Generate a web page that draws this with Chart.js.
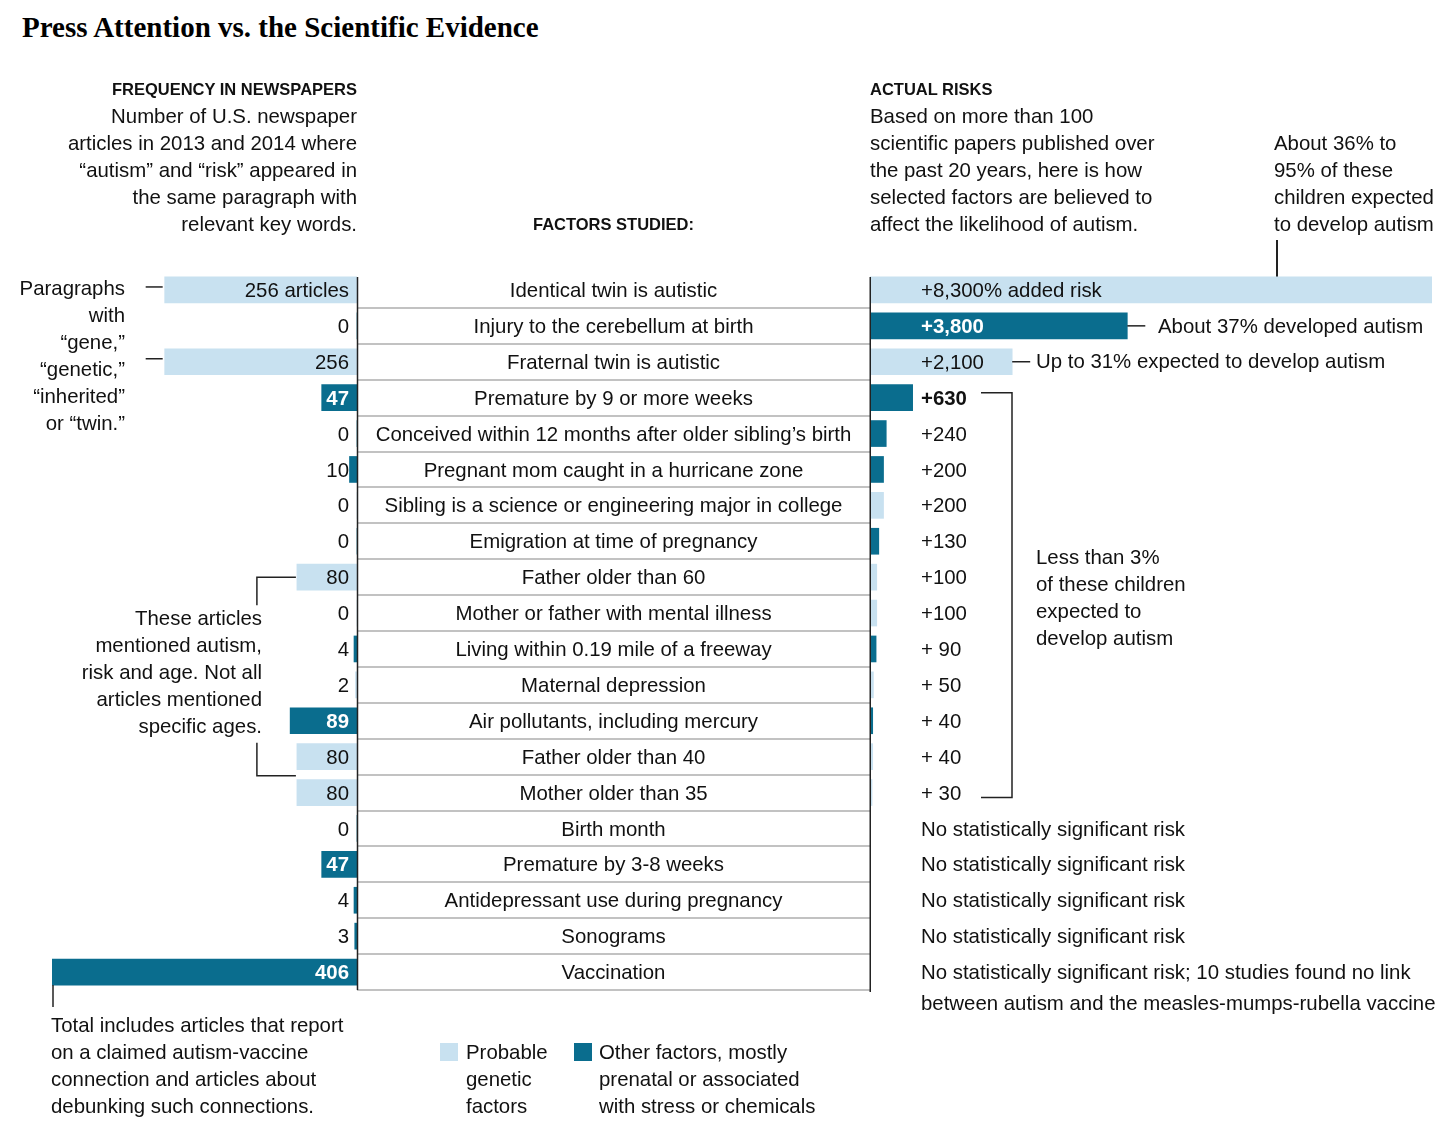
<!DOCTYPE html>
<html>
<head>
<meta charset="utf-8">
<script src="https://cdn.jsdelivr.net/npm/chart.js@4.4.1/dist/chart.umd.min.js"></script>
<style>
  html, body { margin: 0; padding: 0; }
  body { width: 1456px; height: 1126px; background: #fff; position: relative; overflow: hidden;
         font-family: "Liberation Sans", Arial, sans-serif; color: #111; }
  .t { position: absolute; font-size: 20.4px; line-height: 27px; white-space: nowrap; z-index: 2; }
  .r { text-align: right; }
  .h { font-weight: bold; font-size: 16.5px; }
  .title { position: absolute; left: 22px; top: 11px; font: bold 29px "Liberation Serif", "DejaVu Serif", serif; color: #000; white-space: nowrap; }
  canvas { position: absolute; top: 0; z-index: 1; }
  .sq { position: absolute; width: 18px; height: 18px; }
  .vl { position: absolute; width: 1.5px; background: #222; }
</style>
</head>
<body>
<div class="title">Press Attention vs. the Scientific Evidence</div>

<div class="t r h" style="right:1099px; top:76px;">FREQUENCY IN NEWSPAPERS</div>
<div class="t r" style="right:1099px; top:103px;">Number of U.S. newspaper<br>articles in 2013 and 2014 where<br>“autism” and “risk” appeared in<br>the same paragraph with<br>relevant key words.</div>

<div class="t h" style="left:357px; width:513px; text-align:center; top:211px;">FACTORS STUDIED:</div>

<div class="t h" style="left:870px; top:76px;">ACTUAL RISKS</div>
<div class="t" style="left:870px; top:103px;">Based on more than 100<br>scientific papers published over<br>the past 20 years, here is how<br>selected factors are believed to<br>affect the likelihood of autism.</div>

<div class="t" style="left:1274px; top:130px;">About 36% to<br>95% of these<br>children expected<br>to develop autism</div>
<div class="vl" style="left:1276px; top:240px; height:37px;"></div>

<div class="t r" style="right:1331px; top:275px;">Paragraphs<br>with<br>“gene,”<br>“genetic,”<br>“inherited”<br>or “twin.”</div>

<div class="t r" style="right:1194px; top:605px;">These articles<br>mentioned autism,<br>risk and age. Not all<br>articles mentioned<br>specific ages.</div>

<div class="t" style="left:1158px; top:313px;">About 37% developed autism</div>
<div class="t" style="left:1036px; top:348px;">Up to 31% expected to develop autism</div>
<div class="t" style="left:1036px; top:544px;">Less than 3%<br>of these children<br>expected to<br>develop autism</div>
<div class="t" style="left:921px; top:990px;">between autism and the measles-mumps-rubella vaccine</div>

<div class="t" style="left:51px; top:1012px;">Total includes articles that report<br>on a claimed autism-vaccine<br>connection and articles about<br>debunking such connections.</div>

<div class="sq" style="left:440px; top:1043px; background:#c8e1f0;"></div>
<div class="t" style="left:466px; top:1039px;">Probable<br>genetic<br>factors</div>
<div class="sq" style="left:574px; top:1043px; background:#0a6d8e;"></div>
<div class="t" style="left:599px; top:1039px;">Other factors, mostly<br>prenatal or associated<br>with stress or chemicals</div>

<canvas id="left" width="872" height="1126" style="left:0px;"></canvas>
<canvas id="right" width="596" height="1126" style="left:860px;"></canvas>

<script>
// ---------------- DATA ----------------
const factors = [
  'Identical twin is autistic',
  'Injury to the cerebellum at birth',
  'Fraternal twin is autistic',
  'Premature by 9 or more weeks',
  'Conceived within 12 months after older sibling’s birth',
  'Pregnant mom caught in a hurricane zone',
  'Sibling is a science or engineering major in college',
  'Emigration at time of pregnancy',
  'Father older than 60',
  'Mother or father with mental illness',
  'Living within 0.19 mile of a freeway',
  'Maternal depression',
  'Air pollutants, including mercury',
  'Father older than 40',
  'Mother older than 35',
  'Birth month',
  'Premature by 3-8 weeks',
  'Antidepressant use during pregnancy',
  'Sonograms',
  'Vaccination'
];
const factorGroup = ['genetic','other','genetic','other','other','other','genetic','other','genetic','genetic',
                     'other','genetic','other','genetic','genetic','other','other','other','other','other'];
const articleCounts = [256, 0, 256, 47, 0, 10, 0, 0, 80, 0, 4, 2, 89, 80, 80, 0, 47, 4, 3, 406];
const articleLabels = ['256 articles','0','256','47','0','10','0','0','80','0','4','2','89','80','80','0','47','4','3','406'];
const addedRiskPct = [8300, 3800, 2100, 630, 240, 200, 200, 130, 100, 100, 90, 50, 40, 40, 30, null, null, null, null, null];
const riskLabels = ['+8,300% added risk','+3,800','+2,100','+630','+240','+200','+200','+130','+100','+100',
                    '+ 90','+ 50','+ 40','+ 40','+ 30',
                    'No statistically significant risk','No statistically significant risk',
                    'No statistically significant risk','No statistically significant risk',
                    'No statistically significant risk; 10 studies found no link'];
const boldRiskLabels = [1, 3];

// ---------------- STYLE ----------------
const LIGHT = '#c8e1f0';
const DARK = '#0a6d8e';
const INK = '#111';
const FONT = '"Liberation Sans", Arial, sans-serif';
const FS = '20.4px ';
const MIDDLE_WIDTH = 513;
const colorOf = g => g === 'genetic' ? LIGHT : DARK;

function line(ctx, x1, y1, x2, y2) { ctx.beginPath(); ctx.moveTo(x1, y1); ctx.lineTo(x2, y2); ctx.stroke(); }

const leftDecor = {
  id: 'leftDecor',
  afterDatasetsDraw(chart) {
    const { ctx, chartArea: a, scales: { x, y } } = chart;
    const n = factors.length;
    const rowH = y.getPixelForValue(1) - y.getPixelForValue(0);
    const x0 = x.getPixelForValue(0);
    const midR = a.right + MIDDLE_WIDTH;
    ctx.save();
    // row separators in the middle column
    ctx.strokeStyle = '#c2c2c2'; ctx.lineWidth = 2;
    for (let i = 0; i < n; i++) {
      const yy = Math.round(y.getPixelForValue(i) + rowH / 2);
      line(ctx, x0, yy, midR, yy);
    }
    // axis line
    ctx.strokeStyle = '#222'; ctx.lineWidth = 1.5;
    line(ctx, x0 + 0.5, y.getPixelForValue(0) - 13, x0 + 0.5, y.getPixelForValue(n - 1) + rowH / 2);
    // value labels
    ctx.textBaseline = 'middle';
    for (let i = 0; i < n; i++) {
      const yy = y.getPixelForValue(i) + 1.5;
      const inside = factorGroup[i] === 'other' && articleCounts[i] >= 40;
      ctx.font = (inside ? 'bold ' : '') + FS + FONT;
      ctx.fillStyle = inside ? '#fff' : INK;
      ctx.textAlign = 'right';
      ctx.fillText(articleLabels[i], x0 - 8, yy);
      ctx.font = FS + FONT;
      ctx.fillStyle = INK;
      ctx.textAlign = 'center';
      ctx.fillText(factors[i], (x0 + midR) / 2, yy);
    }
    // connectors
    ctx.strokeStyle = '#222'; ctx.lineWidth = 1.5;
    [0, 2].forEach(i => {
      const e = x.getPixelForValue(articleCounts[i]);
      const yy = y.getPixelForValue(i) - 3;
      line(ctx, e - 19, yy, e - 2, yy);
    });
    {
      const e = x.getPixelForValue(articleCounts[8]);
      const yy = y.getPixelForValue(8);
      ctx.beginPath(); ctx.moveTo(e - 1, yy); ctx.lineTo(e - 40, yy); ctx.lineTo(e - 40, yy + 28); ctx.stroke();
    }
    {
      const e = x.getPixelForValue(articleCounts[13]);
      const yy = y.getPixelForValue(13) + 19;
      ctx.beginPath(); ctx.moveTo(e - 40, yy - 33); ctx.lineTo(e - 40, yy); ctx.lineTo(e - 1, yy); ctx.stroke();
    }
    {
      const e = x.getPixelForValue(articleCounts[19]);
      const yy = y.getPixelForValue(19) + 13;
      line(ctx, e + 1, yy, e + 1, yy + 22);
    }
    ctx.restore();
  }
};

const rightDecor = {
  id: 'rightDecor',
  afterDatasetsDraw(chart) {
    const { ctx, chartArea: a, scales: { x, y } } = chart;
    const n = factors.length;
    const rowH = y.getPixelForValue(1) - y.getPixelForValue(0);
    const x0 = x.getPixelForValue(0);
    ctx.save();
    ctx.strokeStyle = '#222'; ctx.lineWidth = 1.5;
    line(ctx, x0 + 0.25, y.getPixelForValue(0) - 13, x0 + 0.25, y.getPixelForValue(n - 1) + rowH / 2 + 2);
    ctx.textBaseline = 'middle'; ctx.textAlign = 'left';
    for (let i = 0; i < n; i++) {
      const bold = boldRiskLabels.includes(i);
      const inside = addedRiskPct[i] !== null && factorGroup[i] === 'other' && x.getPixelForValue(addedRiskPct[i]) > x0 + 120;
      ctx.font = (bold ? 'bold ' : '') + FS + FONT;
      ctx.fillStyle = inside ? '#fff' : INK;
      ctx.fillText(riskLabels[i], x0 + 51, y.getPixelForValue(i) + 1.5);
    }
    // dashes after bars
    [1, 2].forEach(i => {
      const e = x.getPixelForValue(addedRiskPct[i]);
      const yy = y.getPixelForValue(i);
      line(ctx, e, yy, e + 18, yy);
    });
    // bracket for the small-risk group
    const top = y.getPixelForValue(3) - 5;
    const bot = y.getPixelForValue(14) + 5;
    ctx.beginPath();
    ctx.moveTo(x0 + 111, top); ctx.lineTo(x0 + 142, top); ctx.lineTo(x0 + 142, bot); ctx.lineTo(x0 + 111, bot);
    ctx.stroke();
    ctx.restore();
  }
};

const common = {
  indexAxis: 'y',
  responsive: false,
  animation: false,
  events: [],
  plugins: { legend: { display: false }, tooltip: { enabled: false } }
};

new Chart(document.getElementById('left'), {
  type: 'bar',
  data: {
    labels: factors,
    datasets: [{ data: articleCounts, backgroundColor: factorGroup.map(colorOf), borderWidth: 0, barThickness: 26 }]
  },
  options: Object.assign({}, common, {
    layout: { padding: { left: 52, right: MIDDLE_WIDTH + 2, top: 272, bottom: 136 } },
    scales: {
      x: { type: 'linear', reverse: true, min: 0, max: 406, display: false },
      y: { type: 'category', display: false }
    }
  }),
  plugins: [leftDecor]
});

new Chart(document.getElementById('right'), {
  type: 'bar',
  data: {
    labels: factors,
    datasets: [{ data: addedRiskPct, backgroundColor: factorGroup.map(colorOf), borderWidth: 0, barThickness: 26 }]
  },
  options: Object.assign({}, common, {
    layout: { padding: { left: 10, right: 24, top: 272, bottom: 136 } },
    scales: {
      x: { type: 'linear', min: 0, max: 8300, display: false },
      y: { type: 'category', display: false }
    }
  }),
  plugins: [rightDecor]
});
</script>
</body>
</html>
